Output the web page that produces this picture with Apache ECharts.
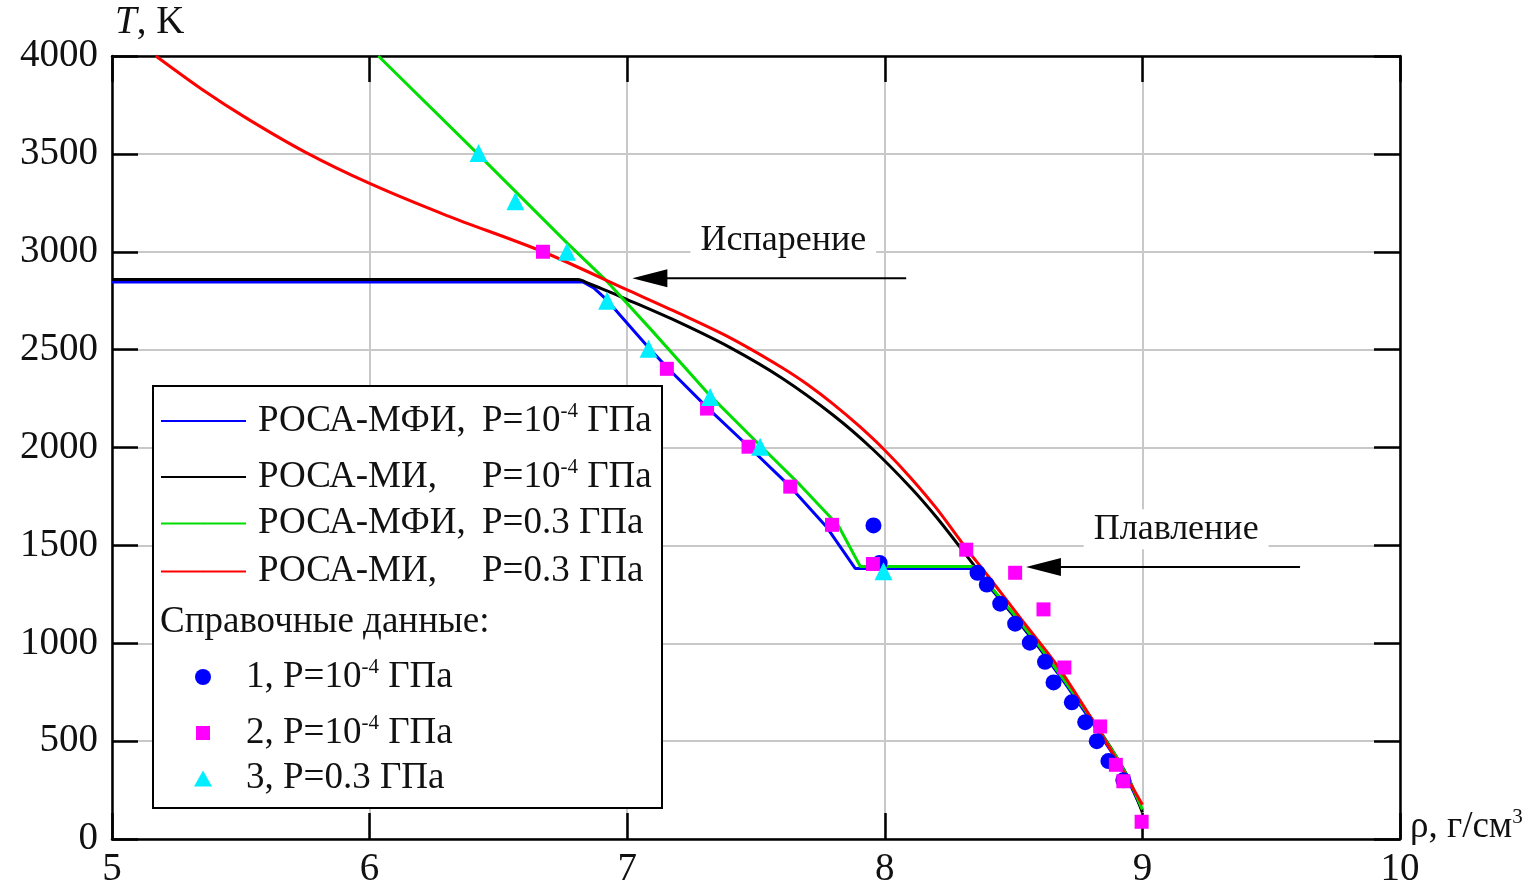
<!DOCTYPE html>
<html>
<head>
<meta charset="utf-8">
<title>T(rho)</title>
<script src="https://cdn.jsdelivr.net/npm/echarts@6/dist/echarts.min.js"></script>
<style>
  html, body { margin: 0; padding: 0; background: #fff; }
  #chart { width: 1537px; height: 889px; }
</style>
</head>
<body>
<div id="chart"></div>
<script>
// density rho (g/cm3), temperature T (K)
const rosaMfiLowP = [[5.0,2845],[6.83,2845],[6.87,2815],[6.92,2755],[7.08,2515],[7.154,2410],[7.31,2205],[7.471,2005],[7.633,1800],[7.775,1592],[7.885,1382],[8.344,1382],[8.4,1298],[8.5,1140],[8.6,975],[8.7,795],[8.8,605],[8.9,405],[8.95,285],[9.0,145]];
const rosaMiLowP = [[5.0,2858],[6.81,2858],[6.85,2838],[6.9,2812],[7.0,2756],[7.2,2640],[7.4,2510],[7.6,2355],[7.8,2165],[7.95,1995],[8.1,1796],[8.2,1645],[8.316,1450],[8.4,1305],[8.5,1145],[8.6,980],[8.7,805],[8.8,620],[8.9,418],[8.95,300],[9.0,135]];
const rosaMfiHighP = [[6.034,4000],[6.42,3500],[6.77,3040],[6.92,2851],[7.09,2606],[7.322,2265],[7.516,2010],[7.67,1810],[7.82,1600],[7.905,1392],[8.344,1392],[8.4,1306],[8.5,1150],[8.6,985],[8.7,805],[8.8,618],[8.9,418],[8.95,300],[9.0,150]];
const rosaMiHighP = [[5.17,4000],[5.35,3829],[5.525,3680],[5.75,3509],[6.0,3349],[6.3,3185],[6.673,3000],[7.0,2805],[7.2,2686],[7.4,2560],[7.6,2409],[7.7,2322],[7.8,2222],[7.9,2110],[8.0,1986],[8.1,1846],[8.2,1690],[8.316,1485],[8.4,1345],[8.525,1131],[8.675,876],[8.8,620],[8.9,405],[9.0,175]];

const ref1 = [[7.956,1602],[7.98,1410],[8.36,1360],[8.396,1300],[8.448,1202],[8.506,1100],[8.563,1003],[8.622,905],[8.655,800],[8.726,698],[8.778,597],[8.823,500],[8.868,398],[8.926,300]];
const ref2 = [[6.673,3000],[7.154,2402],[7.31,2199],[7.471,2004],[7.633,1800],[7.795,1605],[7.954,1405],[8.316,1478],[8.506,1360],[8.616,1173],[8.697,876],[8.836,575],[8.897,379],[8.926,295],[8.997,88]];
const ref3 = [[6.423,3505],[6.566,3258],[6.766,3000],[6.922,2750],[7.083,2504],[7.322,2258],[7.516,2004],[7.995,1368]];

const xTicks = [5, 6, 7, 8, 9, 10];
const yTicks = [0, 500, 1000, 1500, 2000, 2500, 3000, 3500, 4000];

const legendLabels = {
  mfi1: '{n|РОСА-МФИ,}{t|P=10}{s|-4}{t| ГПа}',
  mi1: '{n|РОСА-МИ,}{t|P=10}{s|-4}{t| ГПа}',
  mfi3: '{n|РОСА-МФИ,}{t|P=0.3 ГПа}',
  mi3: '{n|РОСА-МИ,}{t|P=0.3 ГПа}',
  r1: '{t|1, P=10}{s|-4}{t| ГПа}',
  r2: '{t|2, P=10}{s|-4}{t| ГПа}',
  r3: '{t|3, P=0.3 ГПа}'
};

// annotations in data coordinates
const evapText = [7.606, 3059];
const evapArrow = [[8.083, 2865], [7.02, 2865]];
const meltText = [9.131, 1583];
const meltArrow = [[9.612, 1390], [8.548, 1390]];

const FONT = '"Liberation Serif", "Times New Roman", serif';
const INK = '#111';

const chart = echarts.init(document.getElementById('chart'));

const richText = {
  n: { fontFamily: FONT, fontSize: 37, color: INK, width: 224, lineHeight: 40 },
  t: { fontFamily: FONT, fontSize: 37, color: INK, lineHeight: 40 },
  s: { fontFamily: FONT, fontSize: 21, color: INK, verticalAlign: 'top', lineHeight: 40, padding: [0, 0, 14, 0] }
};

// one legend block per row, so rows sit where the picture has them
const legendRows = [
  { name: 'mfi1', cy: 421, left: 160, w: 85, h: 2, pad: 7 },
  { name: 'mi1', cy: 477, left: 160, w: 85, h: 2, pad: 7 },
  { name: 'mfi3', cy: 525, left: 160, w: 85, h: 2, pad: 7 },
  { name: 'mi3', cy: 573, left: 160, w: 85, h: 2, pad: 7 },
  { name: 'r1', cy: 677, left: 195, w: 16, h: 16, pad: 30 },
  { name: 'r2', cy: 733, left: 196, w: 14, h: 14, pad: 31 },
  { name: 'r3', cy: 780, left: 194, w: 18, h: 16, pad: 29 }
];

const legends = legendRows.map(r => ({
  data: [r.name],
  left: r.left,
  top: r.cy - 20,
  padding: 0,
  itemWidth: r.w,
  itemHeight: r.h,
  selectedMode: false,
  z: 6,
  formatter: name => legendLabels[name],
  textStyle: { rich: richText, padding: [0, 0, 0, r.pad] }
}));

function lineSeries(name, data, color, smooth) {
  return {
    name: name,
    type: 'line',
    data: data,
    symbol: 'none',
    smooth: smooth,
    color: color,
    lineStyle: { color: color, width: 3 },
    z: 2
  };
}

function refSeries(name, data, symbol, size, color, z) {
  return {
    name: name,
    type: 'scatter',
    data: data,
    symbol: symbol,
    symbolSize: size,
    itemStyle: { color: color, opacity: 1 },
    z: z
  };
}

const axisCommon = {
  axisLine: { show: true, onZero: false, lineStyle: { color: '#000', width: 2.5 } },
  axisTick: { show: true, inside: true, length: 26, lineStyle: { color: '#000', width: 2.5 } },
  splitLine: { show: false }
};

const option = {
  animation: false,
  backgroundColor: '#fff',
  grid: { left: 112, right: 137, top: 56, bottom: 47 },
  xAxis: [
    Object.assign({}, axisCommon, {
      type: 'value', min: xTicks[0], max: xTicks[xTicks.length - 1], interval: 1,
      position: 'bottom',
      splitLine: { show: true, lineStyle: { color: '#c8c8c8', width: 2 } },
      axisLabel: { fontFamily: FONT, fontSize: 39, color: INK, margin: 11 },
      name: '{t|ρ, г/см}{s|3}',
      nameLocation: 'end',
      nameGap: 10,
      nameTextStyle: {
        align: 'left',
        padding: [0, 0, 24, 0],
        rich: {
          t: { fontFamily: FONT, fontSize: 37, color: INK, lineHeight: 40 },
          s: { fontFamily: FONT, fontSize: 21, color: INK, verticalAlign: 'top', lineHeight: 40, padding: [0, 0, 14, 0] }
        }
      }
    }),
    Object.assign({}, axisCommon, {
      type: 'value', min: xTicks[0], max: xTicks[xTicks.length - 1], interval: 1,
      position: 'top',
      axisLabel: { show: false }
    })
  ],
  yAxis: [
    Object.assign({}, axisCommon, {
      type: 'value', min: yTicks[0], max: yTicks[yTicks.length - 1], interval: 500,
      position: 'left',
      splitLine: { show: true, lineStyle: { color: '#c8c8c8', width: 2 } },
      axisLabel: { fontFamily: FONT, fontSize: 39, color: INK, margin: 14, formatter: v => String(v) },
      name: '{i|T}{t|, K}',
      nameLocation: 'end',
      nameGap: 14,
      nameTextStyle: {
        align: 'left',
        padding: [0, 0, 0, 3],
        rich: {
          i: { fontFamily: FONT, fontSize: 39, color: INK, fontStyle: 'italic' },
          t: { fontFamily: FONT, fontSize: 39, color: INK }
        }
      }
    }),
    Object.assign({}, axisCommon, {
      type: 'value', min: yTicks[0], max: yTicks[yTicks.length - 1], interval: 500,
      position: 'right',
      axisLabel: { show: false }
    })
  ],
  legend: legends,
  series: [
    lineSeries('mfi1', rosaMfiLowP, '#0000ff', false),
    lineSeries('mi1', rosaMiLowP, '#000000', 0.3),
    lineSeries('mfi3', rosaMfiHighP, '#00dd00', false),
    lineSeries('mi3', rosaMiHighP, '#ff0000', 0.3),
    refSeries('r1', ref1, 'circle', 16, '#0000ff', 3),
    refSeries('r2', ref2, 'rect', 14, '#ff00ff', 4),
    refSeries('r3', ref3, 'triangle', 18, '#00eeff', 5)
  ]
};

chart.setOption(option);

function toPx(p) {
  return chart.convertToPixel({ gridIndex: 0 }, p);
}

function arrow(seg) {
  const tail = toPx(seg[0]);
  const tip = toPx(seg[1]);
  const headLen = 35;
  const headHalf = 9;
  return [
    { type: 'line', z: 10, shape: { x1: tail[0], y1: tail[1], x2: tip[0] + headLen - 2, y2: tip[1] }, style: { stroke: '#000', lineWidth: 2 } },
    { type: 'polygon', z: 10, shape: { points: [[tip[0], tip[1]], [tip[0] + headLen, tip[1] - headHalf], [tip[0] + headLen, tip[1] + headHalf]] }, style: { fill: '#000' } }
  ];
}

function label(text, at) {
  const p = toPx(at);
  return {
    type: 'text', z: 10,
    style: {
      text: text, x: p[0], y: p[1], align: 'center', verticalAlign: 'middle',
      font: '36px ' + FONT, fill: INK, backgroundColor: '#fff', padding: [2, 10]
    }
  };
}

chart.setOption({
  graphic: [
    { type: 'rect', z: 3, shape: { x: 153, y: 386, width: 509, height: 422 }, style: { fill: '#fff', stroke: '#000', lineWidth: 2 } },
    { type: 'text', z: 6, style: { text: 'Справочные данные:', x: 160, y: 622, verticalAlign: 'middle', font: '37px ' + FONT, fill: INK } },
    label('Испарение', evapText),
    label('Плавление', meltText)
  ].concat(arrow(evapArrow), arrow(meltArrow))
});
</script>
</body>
</html>
